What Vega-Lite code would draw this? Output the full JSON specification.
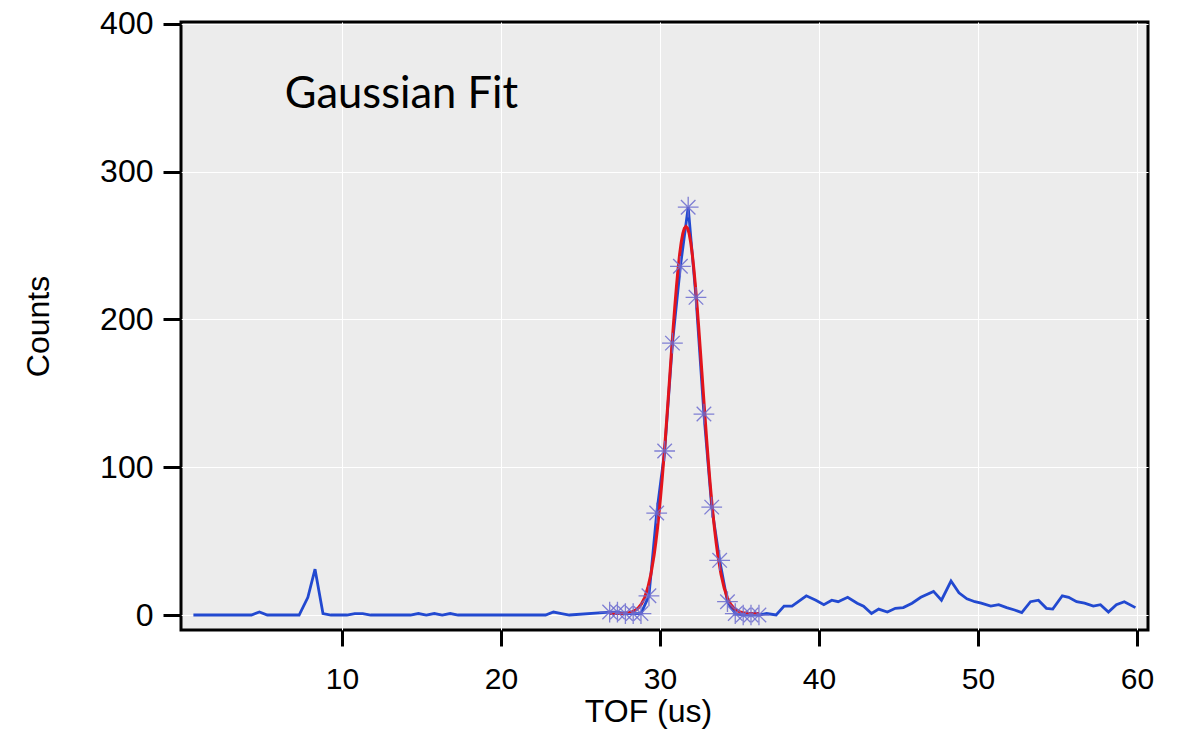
{
  "$schema": "https://vega.github.io/schema/vega-lite/v6.json",
  "width": 967,
  "height": 608,
  "autosize": {"type": "none"},
  "padding": {"left": 181, "top": 22, "right": 31, "bottom": 103},
  "background": "white",
  "config": {
    "view": {"fill": "#ececec", "stroke": "black", "strokeWidth": 3},
    "axis": {
      "grid": true,
      "gridColor": "white",
      "gridWidth": 1,
      "domain": false,
      "tickColor": "black",
      "tickWidth": 3,
      "labelFont": "Liberation Sans",
      "labelFontSize": 30,
      "labelColor": "black",
      "titleFont": "Liberation Sans",
      "titleFontSize": 32,
      "titleFontWeight": "normal",
      "titleColor": "black"
    }
  },
  "datasets": {
    "counts": [
      {"tof": 0.65, "counts": 0, "star": false},
      {"tof": 4.3, "counts": 0, "star": false},
      {"tof": 4.8, "counts": 2, "star": false},
      {"tof": 5.3, "counts": 0, "star": false},
      {"tof": 7.3, "counts": 0, "star": false},
      {"tof": 7.85, "counts": 12, "star": false},
      {"tof": 8.3, "counts": 31, "star": false},
      {"tof": 8.8, "counts": 1, "star": false},
      {"tof": 9.3, "counts": 0, "star": false},
      {"tof": 10.3, "counts": 0, "star": false},
      {"tof": 10.8, "counts": 1, "star": false},
      {"tof": 11.3, "counts": 1, "star": false},
      {"tof": 11.8, "counts": 0, "star": false},
      {"tof": 14.3, "counts": 0, "star": false},
      {"tof": 14.8, "counts": 1, "star": false},
      {"tof": 15.3, "counts": 0, "star": false},
      {"tof": 15.8, "counts": 1, "star": false},
      {"tof": 16.3, "counts": 0, "star": false},
      {"tof": 16.8, "counts": 1, "star": false},
      {"tof": 17.3, "counts": 0, "star": false},
      {"tof": 22.8, "counts": 0, "star": false},
      {"tof": 23.3, "counts": 2, "star": false},
      {"tof": 23.8, "counts": 1, "star": false},
      {"tof": 24.3, "counts": 0, "star": false},
      {"tof": 26.83, "counts": 2, "star": true},
      {"tof": 27.32, "counts": 2, "star": true},
      {"tof": 27.82, "counts": 1, "star": true},
      {"tof": 28.31, "counts": 1, "star": true},
      {"tof": 28.8, "counts": 1, "star": true},
      {"tof": 29.3, "counts": 13, "star": true},
      {"tof": 29.79, "counts": 69, "star": true},
      {"tof": 30.29, "counts": 111, "star": true},
      {"tof": 30.78, "counts": 184, "star": true},
      {"tof": 31.28, "counts": 236, "star": true},
      {"tof": 31.77, "counts": 276, "star": true},
      {"tof": 32.26, "counts": 215, "star": true},
      {"tof": 32.76, "counts": 136, "star": true},
      {"tof": 33.25, "counts": 73, "star": true},
      {"tof": 33.75, "counts": 37, "star": true},
      {"tof": 34.24, "counts": 9, "star": true},
      {"tof": 34.73, "counts": 1, "star": true},
      {"tof": 35.23, "counts": 0, "star": true},
      {"tof": 35.72, "counts": 0, "star": true},
      {"tof": 36.22, "counts": 0, "star": true},
      {"tof": 36.7, "counts": 1, "star": false},
      {"tof": 37.3, "counts": 0, "star": false},
      {"tof": 37.8, "counts": 6, "star": false},
      {"tof": 38.3, "counts": 6, "star": false},
      {"tof": 39.2, "counts": 13, "star": false},
      {"tof": 39.8, "counts": 10, "star": false},
      {"tof": 40.3, "counts": 7, "star": false},
      {"tof": 40.8, "counts": 10, "star": false},
      {"tof": 41.2, "counts": 9, "star": false},
      {"tof": 41.8, "counts": 12, "star": false},
      {"tof": 42.4, "counts": 8, "star": false},
      {"tof": 42.8, "counts": 6, "star": false},
      {"tof": 43.3, "counts": 1, "star": false},
      {"tof": 43.75, "counts": 4, "star": false},
      {"tof": 44.3, "counts": 2, "star": false},
      {"tof": 44.8, "counts": 4.5, "star": false},
      {"tof": 45.3, "counts": 5, "star": false},
      {"tof": 45.85, "counts": 8, "star": false},
      {"tof": 46.4, "counts": 12, "star": false},
      {"tof": 47.2, "counts": 16, "star": false},
      {"tof": 47.7, "counts": 10, "star": false},
      {"tof": 48.3, "counts": 23, "star": false},
      {"tof": 48.8, "counts": 15, "star": false},
      {"tof": 49.3, "counts": 11, "star": false},
      {"tof": 49.8, "counts": 9, "star": false},
      {"tof": 50.2, "counts": 8, "star": false},
      {"tof": 50.8, "counts": 6, "star": false},
      {"tof": 51.3, "counts": 7, "star": false},
      {"tof": 51.8, "counts": 5, "star": false},
      {"tof": 52.3, "counts": 3.4, "star": false},
      {"tof": 52.75, "counts": 1.6, "star": false},
      {"tof": 53.3, "counts": 9, "star": false},
      {"tof": 53.8, "counts": 10, "star": false},
      {"tof": 54.3, "counts": 4.5, "star": false},
      {"tof": 54.7, "counts": 4, "star": false},
      {"tof": 55.3, "counts": 13, "star": false},
      {"tof": 55.7, "counts": 12, "star": false},
      {"tof": 56.2, "counts": 9, "star": false},
      {"tof": 56.7, "counts": 8, "star": false},
      {"tof": 57.25, "counts": 6, "star": false},
      {"tof": 57.7, "counts": 7, "star": false},
      {"tof": 58.2, "counts": 2, "star": false},
      {"tof": 58.7, "counts": 7, "star": false},
      {"tof": 59.2, "counts": 9, "star": false},
      {"tof": 59.9, "counts": 5, "star": false}
    ],
    "fit": [
      {"tof": 26.83, "counts": 1.0}, {"tof": 27.23, "counts": 1.0}, {"tof": 27.63, "counts": 1.1},
      {"tof": 28.03, "counts": 1.6}, {"tof": 28.23, "counts": 2.1}, {"tof": 28.43, "counts": 3.1},
      {"tof": 28.63, "counts": 4.8}, {"tof": 28.83, "counts": 7.5}, {"tof": 29.03, "counts": 11.8},
      {"tof": 29.23, "counts": 18.4}, {"tof": 29.43, "counts": 27.8}, {"tof": 29.63, "counts": 40.7},
      {"tof": 29.73, "counts": 48.8}, {"tof": 29.83, "counts": 57.9}, {"tof": 29.93, "counts": 68.2},
      {"tof": 30.03, "counts": 79.4}, {"tof": 30.13, "counts": 91.7}, {"tof": 30.23, "counts": 105.0},
      {"tof": 30.33, "counts": 119.1}, {"tof": 30.43, "counts": 133.9}, {"tof": 30.53, "counts": 149.1},
      {"tof": 30.63, "counts": 164.5}, {"tof": 30.73, "counts": 179.9}, {"tof": 30.83, "counts": 194.8},
      {"tof": 30.93, "counts": 209.0}, {"tof": 31.03, "counts": 222.1}, {"tof": 31.13, "counts": 233.9},
      {"tof": 31.23, "counts": 244.0}, {"tof": 31.33, "counts": 252.1}, {"tof": 31.43, "counts": 258.1},
      {"tof": 31.53, "counts": 261.8}, {"tof": 31.63, "counts": 263.0}, {"tof": 31.73, "counts": 261.8},
      {"tof": 31.83, "counts": 258.1}, {"tof": 31.93, "counts": 252.1}, {"tof": 32.03, "counts": 244.0},
      {"tof": 32.13, "counts": 233.9}, {"tof": 32.23, "counts": 222.1}, {"tof": 32.33, "counts": 209.0},
      {"tof": 32.43, "counts": 194.8}, {"tof": 32.53, "counts": 179.9}, {"tof": 32.63, "counts": 164.5},
      {"tof": 32.73, "counts": 149.1}, {"tof": 32.83, "counts": 133.9}, {"tof": 32.93, "counts": 119.1},
      {"tof": 33.03, "counts": 105.0}, {"tof": 33.13, "counts": 91.7}, {"tof": 33.23, "counts": 79.4},
      {"tof": 33.33, "counts": 68.2}, {"tof": 33.43, "counts": 57.9}, {"tof": 33.53, "counts": 48.8},
      {"tof": 33.63, "counts": 40.7}, {"tof": 33.83, "counts": 27.8}, {"tof": 34.03, "counts": 18.4},
      {"tof": 34.23, "counts": 11.8}, {"tof": 34.43, "counts": 7.5}, {"tof": 34.63, "counts": 4.8},
      {"tof": 34.83, "counts": 3.1}, {"tof": 35.03, "counts": 2.1}, {"tof": 35.23, "counts": 1.6},
      {"tof": 35.63, "counts": 1.1}, {"tof": 36.03, "counts": 1.0}, {"tof": 36.23, "counts": 1.0}
    ],
    "note": [{"tof": 6.4, "counts": 343, "label": "Gaussian Fit"}]
  },
  "encoding": {
    "x": {
      "field": "tof", "type": "quantitative",
      "scale": {"domain": [-0.13, 60.69], "nice": false, "zero": false},
      "axis": {"values": [10, 20, 30, 40, 50, 60], "title": "TOF (us)", "tickSize": 16, "labelPadding": 18, "titlePadding": 2, "titleX": 467}
    },
    "y": {
      "field": "counts", "type": "quantitative",
      "scale": {"domain": [-10.15, 401.35], "nice": false, "zero": false},
      "axis": {"values": [0, 100, 200, 300, 400], "title": "Counts", "tickSize": 18, "labelPadding": 10, "labelFontSize": 32, "titlePadding": 44}
    }
  },
  "layer": [
    {
      "data": {"name": "counts"},
      "mark": {"type": "line", "color": "#2249d0", "strokeWidth": 2.8},
      "encoding": {"order": {"field": "tof"}}
    },
    {
      "data": {"name": "fit"},
      "mark": {"type": "line", "color": "#e3141c", "strokeWidth": 3},
      "encoding": {"order": {"field": "tof"}}
    },
    {
      "data": {"name": "counts"},
      "transform": [{"filter": "datum.star"}],
      "mark": {
        "type": "point",
        "shape": "M-1,0L1,0M0,-1L0,1M-0.7,-0.7L0.7,0.7M-0.7,0.7L0.7,-0.7",
        "filled": false,
        "size": 430,
        "color": "#6c6cd0",
        "strokeWidth": 1.3,
        "opacity": 0.85
      }
    },
    {
      "data": {"name": "note"},
      "mark": {"type": "text", "align": "left", "baseline": "alphabetic", "font": "Lato", "fontSize": 43.5, "color": "black"},
      "encoding": {"text": {"field": "label"}}
    }
  ]
}
